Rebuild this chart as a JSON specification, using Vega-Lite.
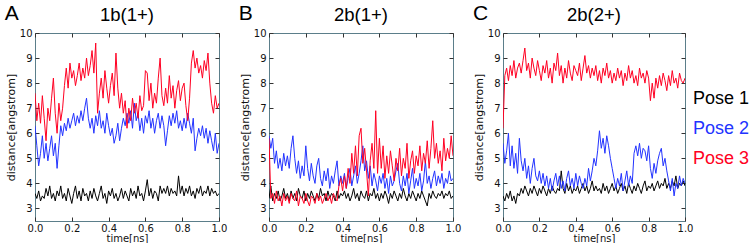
{
"$schema": "https://vega.github.io/schema/vega-lite/v6.json",
"padding": {"left": 4, "top": 2, "right": 2, "bottom": 1},
"bounds": "flush",
"spacing": 50,
"config": {
  "view": {"stroke": "#5b7e8a", "strokeWidth": 1},
  "axis": {"grid": false, "domain": false, "labelFlush": false, "tickColor": "#333333", "labelColor": "#111111", "titleColor": "#111111", "labelFont": "DejaVu Sans", "titleFont": "DejaVu Sans", "titleFontWeight": "normal"}
},
"data": {"values": [
{"p":"A","s":"Pose 1","t":0,"d":3.6},{"p":"A","s":"Pose 1","t":0.01,"d":3.4},{"p":"A","s":"Pose 1","t":0.02,"d":3.7},{"p":"A","s":"Pose 1","t":0.03,"d":3.3},{"p":"A","s":"Pose 1","t":0.04,"d":3.5},{"p":"A","s":"Pose 1","t":0.05,"d":3.4},{"p":"A","s":"Pose 1","t":0.06,"d":3.8},{"p":"A","s":"Pose 1","t":0.07,"d":3.5},{"p":"A","s":"Pose 1","t":0.08,"d":3.9},{"p":"A","s":"Pose 1","t":0.09,"d":3.4},{"p":"A","s":"Pose 1","t":0.1,"d":3.6},
{"p":"A","s":"Pose 1","t":0.11,"d":3.3},{"p":"A","s":"Pose 1","t":0.12,"d":3.7},{"p":"A","s":"Pose 1","t":0.13,"d":3.5},{"p":"A","s":"Pose 1","t":0.14,"d":3.9},{"p":"A","s":"Pose 1","t":0.15,"d":3.4},{"p":"A","s":"Pose 1","t":0.16,"d":3.6},{"p":"A","s":"Pose 1","t":0.17,"d":3.3},{"p":"A","s":"Pose 1","t":0.18,"d":3.8},{"p":"A","s":"Pose 1","t":0.19,"d":3.5},{"p":"A","s":"Pose 1","t":0.2,"d":3.2},
{"p":"A","s":"Pose 1","t":0.21,"d":3.6},{"p":"A","s":"Pose 1","t":0.22,"d":3.9},{"p":"A","s":"Pose 1","t":0.23,"d":3.4},{"p":"A","s":"Pose 1","t":0.24,"d":3.7},{"p":"A","s":"Pose 1","t":0.25,"d":3.3},{"p":"A","s":"Pose 1","t":0.26,"d":3.8},{"p":"A","s":"Pose 1","t":0.27,"d":3.5},{"p":"A","s":"Pose 1","t":0.28,"d":3.6},{"p":"A","s":"Pose 1","t":0.29,"d":3.3},{"p":"A","s":"Pose 1","t":0.3,"d":3.7},
{"p":"A","s":"Pose 1","t":0.31,"d":3.4},{"p":"A","s":"Pose 1","t":0.32,"d":3.8},{"p":"A","s":"Pose 1","t":0.33,"d":3.5},{"p":"A","s":"Pose 1","t":0.34,"d":3.3},{"p":"A","s":"Pose 1","t":0.35,"d":3.6},{"p":"A","s":"Pose 1","t":0.36,"d":3.9},{"p":"A","s":"Pose 1","t":0.37,"d":3.4},{"p":"A","s":"Pose 1","t":0.38,"d":3.6},{"p":"A","s":"Pose 1","t":0.39,"d":3.2},{"p":"A","s":"Pose 1","t":0.4,"d":3.7},
{"p":"A","s":"Pose 1","t":0.41,"d":3.5},{"p":"A","s":"Pose 1","t":0.42,"d":3.8},{"p":"A","s":"Pose 1","t":0.43,"d":3.4},{"p":"A","s":"Pose 1","t":0.44,"d":3.6},{"p":"A","s":"Pose 1","t":0.45,"d":3.3},{"p":"A","s":"Pose 1","t":0.46,"d":3.5},{"p":"A","s":"Pose 1","t":0.47,"d":3.8},{"p":"A","s":"Pose 1","t":0.48,"d":3.4},{"p":"A","s":"Pose 1","t":0.49,"d":3.7},{"p":"A","s":"Pose 1","t":0.5,"d":3.5},
{"p":"A","s":"Pose 1","t":0.51,"d":3.3},{"p":"A","s":"Pose 1","t":0.52,"d":3.8},{"p":"A","s":"Pose 1","t":0.53,"d":3.5},{"p":"A","s":"Pose 1","t":0.54,"d":3.7},{"p":"A","s":"Pose 1","t":0.55,"d":3.4},{"p":"A","s":"Pose 1","t":0.56,"d":3.9},{"p":"A","s":"Pose 1","t":0.57,"d":3.5},{"p":"A","s":"Pose 1","t":0.58,"d":3.6},{"p":"A","s":"Pose 1","t":0.59,"d":3.3},{"p":"A","s":"Pose 1","t":0.6,"d":3.7},
{"p":"A","s":"Pose 1","t":0.61,"d":4.15},{"p":"A","s":"Pose 1","t":0.62,"d":3.5},{"p":"A","s":"Pose 1","t":0.63,"d":3.8},{"p":"A","s":"Pose 1","t":0.64,"d":3.4},{"p":"A","s":"Pose 1","t":0.65,"d":3.7},{"p":"A","s":"Pose 1","t":0.66,"d":3.6},{"p":"A","s":"Pose 1","t":0.67,"d":3.3},{"p":"A","s":"Pose 1","t":0.68,"d":3.9},{"p":"A","s":"Pose 1","t":0.69,"d":3.6},{"p":"A","s":"Pose 1","t":0.7,"d":3.8},
{"p":"A","s":"Pose 1","t":0.71,"d":3.6},{"p":"A","s":"Pose 1","t":0.72,"d":3.9},{"p":"A","s":"Pose 1","t":0.73,"d":3.5},{"p":"A","s":"Pose 1","t":0.74,"d":3.8},{"p":"A","s":"Pose 1","t":0.75,"d":3.6},{"p":"A","s":"Pose 1","t":0.76,"d":3.7},{"p":"A","s":"Pose 1","t":0.77,"d":3.5},{"p":"A","s":"Pose 1","t":0.78,"d":4.3},{"p":"A","s":"Pose 1","t":0.79,"d":3.6},{"p":"A","s":"Pose 1","t":0.8,"d":3.9},
{"p":"A","s":"Pose 1","t":0.81,"d":3.5},{"p":"A","s":"Pose 1","t":0.82,"d":3.8},{"p":"A","s":"Pose 1","t":0.83,"d":3.6},{"p":"A","s":"Pose 1","t":0.84,"d":3.9},{"p":"A","s":"Pose 1","t":0.85,"d":3.5},{"p":"A","s":"Pose 1","t":0.86,"d":3.7},{"p":"A","s":"Pose 1","t":0.87,"d":3.4},{"p":"A","s":"Pose 1","t":0.88,"d":3.8},{"p":"A","s":"Pose 1","t":0.89,"d":3.6},{"p":"A","s":"Pose 1","t":0.9,"d":3.9},
{"p":"A","s":"Pose 1","t":0.91,"d":3.5},{"p":"A","s":"Pose 1","t":0.92,"d":3.7},{"p":"A","s":"Pose 1","t":0.93,"d":3.6},{"p":"A","s":"Pose 1","t":0.94,"d":3.9},{"p":"A","s":"Pose 1","t":0.95,"d":3.5},{"p":"A","s":"Pose 1","t":0.96,"d":3.8},{"p":"A","s":"Pose 1","t":0.97,"d":3.6},{"p":"A","s":"Pose 1","t":0.98,"d":3.7},{"p":"A","s":"Pose 1","t":0.99,"d":3.5},{"p":"A","s":"Pose 1","t":1,"d":3.6},

{"p":"A","s":"Pose 2","t":0,"d":6.3},{"p":"A","s":"Pose 2","t":0.01,"d":5.5},{"p":"A","s":"Pose 2","t":0.02,"d":4.7},{"p":"A","s":"Pose 2","t":0.03,"d":5.2},{"p":"A","s":"Pose 2","t":0.04,"d":5.9},{"p":"A","s":"Pose 2","t":0.05,"d":5.0},{"p":"A","s":"Pose 2","t":0.06,"d":5.6},{"p":"A","s":"Pose 2","t":0.07,"d":4.9},{"p":"A","s":"Pose 2","t":0.08,"d":5.4},{"p":"A","s":"Pose 2","t":0.09,"d":5.9},{"p":"A","s":"Pose 2","t":0.1,"d":5.1},
{"p":"A","s":"Pose 2","t":0.11,"d":5.6},{"p":"A","s":"Pose 2","t":0.12,"d":4.6},{"p":"A","s":"Pose 2","t":0.13,"d":5.5},{"p":"A","s":"Pose 2","t":0.14,"d":6.3},{"p":"A","s":"Pose 2","t":0.15,"d":5.9},{"p":"A","s":"Pose 2","t":0.16,"d":6.4},{"p":"A","s":"Pose 2","t":0.17,"d":6.1},{"p":"A","s":"Pose 2","t":0.18,"d":6.6},{"p":"A","s":"Pose 2","t":0.19,"d":6.2},{"p":"A","s":"Pose 2","t":0.2,"d":6.5},
{"p":"A","s":"Pose 2","t":0.21,"d":6.8},{"p":"A","s":"Pose 2","t":0.22,"d":6.3},{"p":"A","s":"Pose 2","t":0.23,"d":6.7},{"p":"A","s":"Pose 2","t":0.24,"d":6.4},{"p":"A","s":"Pose 2","t":0.25,"d":6.9},{"p":"A","s":"Pose 2","t":0.26,"d":6.5},{"p":"A","s":"Pose 2","t":0.27,"d":7.0},{"p":"A","s":"Pose 2","t":0.28,"d":7.4},{"p":"A","s":"Pose 2","t":0.29,"d":6.6},{"p":"A","s":"Pose 2","t":0.3,"d":6.2},
{"p":"A","s":"Pose 2","t":0.31,"d":6.6},{"p":"A","s":"Pose 2","t":0.32,"d":6.0},{"p":"A","s":"Pose 2","t":0.33,"d":6.7},{"p":"A","s":"Pose 2","t":0.34,"d":6.3},{"p":"A","s":"Pose 2","t":0.35,"d":6.9},{"p":"A","s":"Pose 2","t":0.36,"d":6.2},{"p":"A","s":"Pose 2","t":0.37,"d":6.5},{"p":"A","s":"Pose 2","t":0.38,"d":6.0},{"p":"A","s":"Pose 2","t":0.39,"d":6.8},{"p":"A","s":"Pose 2","t":0.4,"d":6.3},
{"p":"A","s":"Pose 2","t":0.41,"d":5.9},{"p":"A","s":"Pose 2","t":0.42,"d":6.2},{"p":"A","s":"Pose 2","t":0.43,"d":5.6},{"p":"A","s":"Pose 2","t":0.44,"d":5.9},{"p":"A","s":"Pose 2","t":0.45,"d":6.4},{"p":"A","s":"Pose 2","t":0.46,"d":5.7},{"p":"A","s":"Pose 2","t":0.47,"d":6.2},{"p":"A","s":"Pose 2","t":0.48,"d":6.6},{"p":"A","s":"Pose 2","t":0.49,"d":6.3},{"p":"A","s":"Pose 2","t":0.5,"d":6.8},
{"p":"A","s":"Pose 2","t":0.51,"d":6.4},{"p":"A","s":"Pose 2","t":0.52,"d":6.9},{"p":"A","s":"Pose 2","t":0.53,"d":6.2},{"p":"A","s":"Pose 2","t":0.54,"d":7.2},{"p":"A","s":"Pose 2","t":0.55,"d":6.5},{"p":"A","s":"Pose 2","t":0.56,"d":6.8},{"p":"A","s":"Pose 2","t":0.57,"d":6.1},{"p":"A","s":"Pose 2","t":0.58,"d":6.6},{"p":"A","s":"Pose 2","t":0.59,"d":6.0},{"p":"A","s":"Pose 2","t":0.6,"d":6.7},
{"p":"A","s":"Pose 2","t":0.61,"d":6.4},{"p":"A","s":"Pose 2","t":0.62,"d":6.9},{"p":"A","s":"Pose 2","t":0.63,"d":6.2},{"p":"A","s":"Pose 2","t":0.64,"d":6.6},{"p":"A","s":"Pose 2","t":0.65,"d":6.0},{"p":"A","s":"Pose 2","t":0.66,"d":6.5},{"p":"A","s":"Pose 2","t":0.67,"d":6.8},{"p":"A","s":"Pose 2","t":0.68,"d":6.2},{"p":"A","s":"Pose 2","t":0.69,"d":6.7},{"p":"A","s":"Pose 2","t":0.7,"d":6.3},
{"p":"A","s":"Pose 2","t":0.71,"d":5.5},{"p":"A","s":"Pose 2","t":0.72,"d":6.1},{"p":"A","s":"Pose 2","t":0.73,"d":6.7},{"p":"A","s":"Pose 2","t":0.74,"d":6.3},{"p":"A","s":"Pose 2","t":0.75,"d":6.8},{"p":"A","s":"Pose 2","t":0.76,"d":6.4},{"p":"A","s":"Pose 2","t":0.77,"d":6.9},{"p":"A","s":"Pose 2","t":0.78,"d":6.2},{"p":"A","s":"Pose 2","t":0.79,"d":6.5},{"p":"A","s":"Pose 2","t":0.8,"d":6.1},
{"p":"A","s":"Pose 2","t":0.81,"d":6.6},{"p":"A","s":"Pose 2","t":0.82,"d":6.2},{"p":"A","s":"Pose 2","t":0.83,"d":6.8},{"p":"A","s":"Pose 2","t":0.84,"d":6.4},{"p":"A","s":"Pose 2","t":0.85,"d":6.0},{"p":"A","s":"Pose 2","t":0.86,"d":6.6},{"p":"A","s":"Pose 2","t":0.87,"d":5.3},{"p":"A","s":"Pose 2","t":0.88,"d":5.8},{"p":"A","s":"Pose 2","t":0.89,"d":6.2},{"p":"A","s":"Pose 2","t":0.9,"d":5.9},
{"p":"A","s":"Pose 2","t":0.91,"d":6.3},{"p":"A","s":"Pose 2","t":0.92,"d":5.8},{"p":"A","s":"Pose 2","t":0.93,"d":6.2},{"p":"A","s":"Pose 2","t":0.94,"d":5.6},{"p":"A","s":"Pose 2","t":0.95,"d":6.1},{"p":"A","s":"Pose 2","t":0.96,"d":5.7},{"p":"A","s":"Pose 2","t":0.97,"d":5.3},{"p":"A","s":"Pose 2","t":0.98,"d":6.0},{"p":"A","s":"Pose 2","t":0.99,"d":5.2},{"p":"A","s":"Pose 2","t":1,"d":5.6},

{"p":"A","s":"Pose 3","t":0,"d":7.6},{"p":"A","s":"Pose 3","t":0.01,"d":6.5},{"p":"A","s":"Pose 3","t":0.02,"d":7.2},{"p":"A","s":"Pose 3","t":0.03,"d":6.4},{"p":"A","s":"Pose 3","t":0.04,"d":7.5},{"p":"A","s":"Pose 3","t":0.05,"d":6.6},{"p":"A","s":"Pose 3","t":0.06,"d":5.7},{"p":"A","s":"Pose 3","t":0.07,"d":7.0},{"p":"A","s":"Pose 3","t":0.08,"d":6.5},{"p":"A","s":"Pose 3","t":0.09,"d":7.4},{"p":"A","s":"Pose 3","t":0.1,"d":8.2},
{"p":"A","s":"Pose 3","t":0.11,"d":6.8},{"p":"A","s":"Pose 3","t":0.12,"d":6.0},{"p":"A","s":"Pose 3","t":0.13,"d":7.2},{"p":"A","s":"Pose 3","t":0.14,"d":6.5},{"p":"A","s":"Pose 3","t":0.15,"d":7.0},{"p":"A","s":"Pose 3","t":0.16,"d":7.9},{"p":"A","s":"Pose 3","t":0.17,"d":8.6},{"p":"A","s":"Pose 3","t":0.18,"d":7.8},{"p":"A","s":"Pose 3","t":0.19,"d":8.8},{"p":"A","s":"Pose 3","t":0.2,"d":8.2},
{"p":"A","s":"Pose 3","t":0.21,"d":8.5},{"p":"A","s":"Pose 3","t":0.22,"d":7.9},{"p":"A","s":"Pose 3","t":0.23,"d":8.3},{"p":"A","s":"Pose 3","t":0.24,"d":8.8},{"p":"A","s":"Pose 3","t":0.25,"d":8.1},{"p":"A","s":"Pose 3","t":0.26,"d":8.6},{"p":"A","s":"Pose 3","t":0.27,"d":8.2},{"p":"A","s":"Pose 3","t":0.28,"d":9.0},{"p":"A","s":"Pose 3","t":0.29,"d":8.3},{"p":"A","s":"Pose 3","t":0.3,"d":8.7},
{"p":"A","s":"Pose 3","t":0.31,"d":9.3},{"p":"A","s":"Pose 3","t":0.32,"d":8.4},{"p":"A","s":"Pose 3","t":0.33,"d":9.6},{"p":"A","s":"Pose 3","t":0.34,"d":6.8},{"p":"A","s":"Pose 3","t":0.35,"d":7.6},{"p":"A","s":"Pose 3","t":0.36,"d":8.2},{"p":"A","s":"Pose 3","t":0.37,"d":7.4},{"p":"A","s":"Pose 3","t":0.38,"d":8.5},{"p":"A","s":"Pose 3","t":0.39,"d":7.8},{"p":"A","s":"Pose 3","t":0.4,"d":7.2},
{"p":"A","s":"Pose 3","t":0.41,"d":7.9},{"p":"A","s":"Pose 3","t":0.42,"d":8.4},{"p":"A","s":"Pose 3","t":0.43,"d":7.5},{"p":"A","s":"Pose 3","t":0.44,"d":9.2},{"p":"A","s":"Pose 3","t":0.45,"d":7.8},{"p":"A","s":"Pose 3","t":0.46,"d":7.0},{"p":"A","s":"Pose 3","t":0.47,"d":7.6},{"p":"A","s":"Pose 3","t":0.48,"d":6.8},{"p":"A","s":"Pose 3","t":0.49,"d":7.3},{"p":"A","s":"Pose 3","t":0.5,"d":6.2},
{"p":"A","s":"Pose 3","t":0.51,"d":7.0},{"p":"A","s":"Pose 3","t":0.52,"d":6.5},{"p":"A","s":"Pose 3","t":0.53,"d":7.4},{"p":"A","s":"Pose 3","t":0.54,"d":6.8},{"p":"A","s":"Pose 3","t":0.55,"d":7.2},{"p":"A","s":"Pose 3","t":0.56,"d":6.6},{"p":"A","s":"Pose 3","t":0.57,"d":7.5},{"p":"A","s":"Pose 3","t":0.58,"d":6.9},{"p":"A","s":"Pose 3","t":0.59,"d":7.1},{"p":"A","s":"Pose 3","t":0.6,"d":8.5},
{"p":"A","s":"Pose 3","t":0.61,"d":8.4},{"p":"A","s":"Pose 3","t":0.62,"d":7.3},{"p":"A","s":"Pose 3","t":0.63,"d":8.0},{"p":"A","s":"Pose 3","t":0.64,"d":7.0},{"p":"A","s":"Pose 3","t":0.65,"d":7.6},{"p":"A","s":"Pose 3","t":0.66,"d":7.2},{"p":"A","s":"Pose 3","t":0.67,"d":8.2},{"p":"A","s":"Pose 3","t":0.68,"d":9.0},{"p":"A","s":"Pose 3","t":0.69,"d":7.5},{"p":"A","s":"Pose 3","t":0.7,"d":7.1},
{"p":"A","s":"Pose 3","t":0.71,"d":7.8},{"p":"A","s":"Pose 3","t":0.72,"d":7.2},{"p":"A","s":"Pose 3","t":0.73,"d":8.3},{"p":"A","s":"Pose 3","t":0.74,"d":7.4},{"p":"A","s":"Pose 3","t":0.75,"d":7.9},{"p":"A","s":"Pose 3","t":0.76,"d":7.0},{"p":"A","s":"Pose 3","t":0.77,"d":7.7},{"p":"A","s":"Pose 3","t":0.78,"d":8.1},{"p":"A","s":"Pose 3","t":0.79,"d":7.3},{"p":"A","s":"Pose 3","t":0.8,"d":7.8},
{"p":"A","s":"Pose 3","t":0.81,"d":8.0},{"p":"A","s":"Pose 3","t":0.82,"d":7.1},{"p":"A","s":"Pose 3","t":0.83,"d":6.5},{"p":"A","s":"Pose 3","t":0.84,"d":7.4},{"p":"A","s":"Pose 3","t":0.85,"d":8.8},{"p":"A","s":"Pose 3","t":0.86,"d":9.3},{"p":"A","s":"Pose 3","t":0.87,"d":8.6},{"p":"A","s":"Pose 3","t":0.88,"d":9.0},{"p":"A","s":"Pose 3","t":0.89,"d":8.4},{"p":"A","s":"Pose 3","t":0.9,"d":8.7},
{"p":"A","s":"Pose 3","t":0.91,"d":8.2},{"p":"A","s":"Pose 3","t":0.92,"d":8.9},{"p":"A","s":"Pose 3","t":0.93,"d":8.5},{"p":"A","s":"Pose 3","t":0.94,"d":9.2},{"p":"A","s":"Pose 3","t":0.95,"d":8.0},{"p":"A","s":"Pose 3","t":0.96,"d":7.2},{"p":"A","s":"Pose 3","t":0.97,"d":6.8},{"p":"A","s":"Pose 3","t":0.98,"d":7.5},{"p":"A","s":"Pose 3","t":0.99,"d":7.0},{"p":"A","s":"Pose 3","t":1,"d":7.2},

{"p":"B","s":"Pose 1","t":0,"d":3.4},{"p":"B","s":"Pose 1","t":0.01,"d":3.9},{"p":"B","s":"Pose 1","t":0.02,"d":3.3},{"p":"B","s":"Pose 1","t":0.03,"d":3.6},{"p":"B","s":"Pose 1","t":0.04,"d":3.4},{"p":"B","s":"Pose 1","t":0.05,"d":3.7},{"p":"B","s":"Pose 1","t":0.06,"d":3.3},{"p":"B","s":"Pose 1","t":0.07,"d":3.5},{"p":"B","s":"Pose 1","t":0.08,"d":3.8},{"p":"B","s":"Pose 1","t":0.09,"d":3.4},{"p":"B","s":"Pose 1","t":0.1,"d":3.6},
{"p":"B","s":"Pose 1","t":0.11,"d":3.3},{"p":"B","s":"Pose 1","t":0.12,"d":3.7},{"p":"B","s":"Pose 1","t":0.13,"d":3.4},{"p":"B","s":"Pose 1","t":0.14,"d":3.6},{"p":"B","s":"Pose 1","t":0.15,"d":3.3},{"p":"B","s":"Pose 1","t":0.16,"d":3.8},{"p":"B","s":"Pose 1","t":0.17,"d":3.5},{"p":"B","s":"Pose 1","t":0.18,"d":3.4},{"p":"B","s":"Pose 1","t":0.19,"d":3.7},{"p":"B","s":"Pose 1","t":0.2,"d":3.3},
{"p":"B","s":"Pose 1","t":0.21,"d":3.6},{"p":"B","s":"Pose 1","t":0.22,"d":3.4},{"p":"B","s":"Pose 1","t":0.23,"d":3.7},{"p":"B","s":"Pose 1","t":0.24,"d":3.5},{"p":"B","s":"Pose 1","t":0.25,"d":3.3},{"p":"B","s":"Pose 1","t":0.26,"d":3.6},{"p":"B","s":"Pose 1","t":0.27,"d":3.4},{"p":"B","s":"Pose 1","t":0.28,"d":3.8},{"p":"B","s":"Pose 1","t":0.29,"d":3.5},{"p":"B","s":"Pose 1","t":0.3,"d":3.6},
{"p":"B","s":"Pose 1","t":0.31,"d":3.3},{"p":"B","s":"Pose 1","t":0.32,"d":3.7},{"p":"B","s":"Pose 1","t":0.33,"d":3.4},{"p":"B","s":"Pose 1","t":0.34,"d":3.6},{"p":"B","s":"Pose 1","t":0.35,"d":3.5},{"p":"B","s":"Pose 1","t":0.36,"d":3.3},{"p":"B","s":"Pose 1","t":0.37,"d":3.7},{"p":"B","s":"Pose 1","t":0.38,"d":3.4},{"p":"B","s":"Pose 1","t":0.39,"d":3.6},{"p":"B","s":"Pose 1","t":0.4,"d":3.5},
{"p":"B","s":"Pose 1","t":0.41,"d":3.7},{"p":"B","s":"Pose 1","t":0.42,"d":3.4},{"p":"B","s":"Pose 1","t":0.43,"d":3.6},{"p":"B","s":"Pose 1","t":0.44,"d":3.3},{"p":"B","s":"Pose 1","t":0.45,"d":3.5},{"p":"B","s":"Pose 1","t":0.46,"d":3.8},{"p":"B","s":"Pose 1","t":0.47,"d":3.4},{"p":"B","s":"Pose 1","t":0.48,"d":3.6},{"p":"B","s":"Pose 1","t":0.49,"d":3.3},{"p":"B","s":"Pose 1","t":0.5,"d":3.7},
{"p":"B","s":"Pose 1","t":0.51,"d":3.5},{"p":"B","s":"Pose 1","t":0.52,"d":3.4},{"p":"B","s":"Pose 1","t":0.53,"d":3.7},{"p":"B","s":"Pose 1","t":0.54,"d":3.3},{"p":"B","s":"Pose 1","t":0.55,"d":3.6},{"p":"B","s":"Pose 1","t":0.56,"d":3.5},{"p":"B","s":"Pose 1","t":0.57,"d":3.8},{"p":"B","s":"Pose 1","t":0.58,"d":3.4},{"p":"B","s":"Pose 1","t":0.59,"d":3.6},{"p":"B","s":"Pose 1","t":0.6,"d":3.3},
{"p":"B","s":"Pose 1","t":0.61,"d":3.6},{"p":"B","s":"Pose 1","t":0.62,"d":3.4},{"p":"B","s":"Pose 1","t":0.63,"d":3.7},{"p":"B","s":"Pose 1","t":0.64,"d":3.5},{"p":"B","s":"Pose 1","t":0.65,"d":3.2},{"p":"B","s":"Pose 1","t":0.66,"d":3.6},{"p":"B","s":"Pose 1","t":0.67,"d":3.4},{"p":"B","s":"Pose 1","t":0.68,"d":3.7},{"p":"B","s":"Pose 1","t":0.69,"d":3.5},{"p":"B","s":"Pose 1","t":0.7,"d":3.3},
{"p":"B","s":"Pose 1","t":0.71,"d":3.6},{"p":"B","s":"Pose 1","t":0.72,"d":3.4},{"p":"B","s":"Pose 1","t":0.73,"d":3.8},{"p":"B","s":"Pose 1","t":0.74,"d":3.5},{"p":"B","s":"Pose 1","t":0.75,"d":3.3},{"p":"B","s":"Pose 1","t":0.76,"d":3.6},{"p":"B","s":"Pose 1","t":0.77,"d":3.4},{"p":"B","s":"Pose 1","t":0.78,"d":3.7},{"p":"B","s":"Pose 1","t":0.79,"d":3.5},{"p":"B","s":"Pose 1","t":0.8,"d":3.3},
{"p":"B","s":"Pose 1","t":0.81,"d":3.6},{"p":"B","s":"Pose 1","t":0.82,"d":3.4},{"p":"B","s":"Pose 1","t":0.83,"d":3.7},{"p":"B","s":"Pose 1","t":0.84,"d":3.5},{"p":"B","s":"Pose 1","t":0.85,"d":3.3},{"p":"B","s":"Pose 1","t":0.86,"d":3.1},{"p":"B","s":"Pose 1","t":0.87,"d":3.6},{"p":"B","s":"Pose 1","t":0.88,"d":3.4},{"p":"B","s":"Pose 1","t":0.89,"d":3.7},{"p":"B","s":"Pose 1","t":0.9,"d":3.5},
{"p":"B","s":"Pose 1","t":0.91,"d":3.4},{"p":"B","s":"Pose 1","t":0.92,"d":3.6},{"p":"B","s":"Pose 1","t":0.93,"d":3.5},{"p":"B","s":"Pose 1","t":0.94,"d":3.7},{"p":"B","s":"Pose 1","t":0.95,"d":3.4},{"p":"B","s":"Pose 1","t":0.96,"d":3.6},{"p":"B","s":"Pose 1","t":0.97,"d":3.5},{"p":"B","s":"Pose 1","t":0.98,"d":3.7},{"p":"B","s":"Pose 1","t":0.99,"d":3.4},{"p":"B","s":"Pose 1","t":1,"d":3.5},

{"p":"B","s":"Pose 2","t":0,"d":5.9},{"p":"B","s":"Pose 2","t":0.01,"d":5.4},{"p":"B","s":"Pose 2","t":0.02,"d":5.8},{"p":"B","s":"Pose 2","t":0.03,"d":4.8},{"p":"B","s":"Pose 2","t":0.04,"d":5.3},{"p":"B","s":"Pose 2","t":0.05,"d":4.6},{"p":"B","s":"Pose 2","t":0.06,"d":5.0},{"p":"B","s":"Pose 2","t":0.07,"d":4.5},{"p":"B","s":"Pose 2","t":0.08,"d":5.2},{"p":"B","s":"Pose 2","t":0.09,"d":4.7},{"p":"B","s":"Pose 2","t":0.1,"d":5.1},
{"p":"B","s":"Pose 2","t":0.11,"d":4.6},{"p":"B","s":"Pose 2","t":0.12,"d":5.4},{"p":"B","s":"Pose 2","t":0.13,"d":5.9},{"p":"B","s":"Pose 2","t":0.14,"d":5.0},{"p":"B","s":"Pose 2","t":0.15,"d":4.4},{"p":"B","s":"Pose 2","t":0.16,"d":4.9},{"p":"B","s":"Pose 2","t":0.17,"d":4.2},{"p":"B","s":"Pose 2","t":0.18,"d":4.7},{"p":"B","s":"Pose 2","t":0.19,"d":4.3},{"p":"B","s":"Pose 2","t":0.2,"d":5.5},
{"p":"B","s":"Pose 2","t":0.21,"d":4.6},{"p":"B","s":"Pose 2","t":0.22,"d":4.1},{"p":"B","s":"Pose 2","t":0.23,"d":4.8},{"p":"B","s":"Pose 2","t":0.24,"d":4.3},{"p":"B","s":"Pose 2","t":0.25,"d":4.0},{"p":"B","s":"Pose 2","t":0.26,"d":4.7},{"p":"B","s":"Pose 2","t":0.27,"d":5.0},{"p":"B","s":"Pose 2","t":0.28,"d":4.2},{"p":"B","s":"Pose 2","t":0.29,"d":3.9},{"p":"B","s":"Pose 2","t":0.3,"d":4.5},
{"p":"B","s":"Pose 2","t":0.31,"d":4.1},{"p":"B","s":"Pose 2","t":0.32,"d":4.6},{"p":"B","s":"Pose 2","t":0.33,"d":3.8},{"p":"B","s":"Pose 2","t":0.34,"d":4.3},{"p":"B","s":"Pose 2","t":0.35,"d":4.0},{"p":"B","s":"Pose 2","t":0.36,"d":4.5},{"p":"B","s":"Pose 2","t":0.37,"d":4.9},{"p":"B","s":"Pose 2","t":0.38,"d":3.9},{"p":"B","s":"Pose 2","t":0.39,"d":4.3},{"p":"B","s":"Pose 2","t":0.4,"d":4.0},
{"p":"B","s":"Pose 2","t":0.41,"d":4.4},{"p":"B","s":"Pose 2","t":0.42,"d":3.8},{"p":"B","s":"Pose 2","t":0.43,"d":4.2},{"p":"B","s":"Pose 2","t":0.44,"d":4.6},{"p":"B","s":"Pose 2","t":0.45,"d":3.9},{"p":"B","s":"Pose 2","t":0.46,"d":4.3},{"p":"B","s":"Pose 2","t":0.47,"d":4.7},{"p":"B","s":"Pose 2","t":0.48,"d":4.0},{"p":"B","s":"Pose 2","t":0.49,"d":4.4},{"p":"B","s":"Pose 2","t":0.5,"d":4.9},
{"p":"B","s":"Pose 2","t":0.51,"d":5.5},{"p":"B","s":"Pose 2","t":0.52,"d":4.5},{"p":"B","s":"Pose 2","t":0.53,"d":4.9},{"p":"B","s":"Pose 2","t":0.54,"d":4.2},{"p":"B","s":"Pose 2","t":0.55,"d":4.7},{"p":"B","s":"Pose 2","t":0.56,"d":3.9},{"p":"B","s":"Pose 2","t":0.57,"d":4.4},{"p":"B","s":"Pose 2","t":0.58,"d":4.1},{"p":"B","s":"Pose 2","t":0.59,"d":3.7},{"p":"B","s":"Pose 2","t":0.6,"d":4.3},
{"p":"B","s":"Pose 2","t":0.61,"d":4.0},{"p":"B","s":"Pose 2","t":0.62,"d":4.4},{"p":"B","s":"Pose 2","t":0.63,"d":3.8},{"p":"B","s":"Pose 2","t":0.64,"d":4.2},{"p":"B","s":"Pose 2","t":0.65,"d":3.6},{"p":"B","s":"Pose 2","t":0.66,"d":4.3},{"p":"B","s":"Pose 2","t":0.67,"d":3.9},{"p":"B","s":"Pose 2","t":0.68,"d":4.1},{"p":"B","s":"Pose 2","t":0.69,"d":4.5},{"p":"B","s":"Pose 2","t":0.7,"d":4.8},
{"p":"B","s":"Pose 2","t":0.71,"d":4.0},{"p":"B","s":"Pose 2","t":0.72,"d":3.7},{"p":"B","s":"Pose 2","t":0.73,"d":4.3},{"p":"B","s":"Pose 2","t":0.74,"d":3.9},{"p":"B","s":"Pose 2","t":0.75,"d":4.4},{"p":"B","s":"Pose 2","t":0.76,"d":3.6},{"p":"B","s":"Pose 2","t":0.77,"d":4.1},{"p":"B","s":"Pose 2","t":0.78,"d":4.6},{"p":"B","s":"Pose 2","t":0.79,"d":3.8},{"p":"B","s":"Pose 2","t":0.8,"d":4.2},
{"p":"B","s":"Pose 2","t":0.81,"d":3.9},{"p":"B","s":"Pose 2","t":0.82,"d":4.4},{"p":"B","s":"Pose 2","t":0.83,"d":3.7},{"p":"B","s":"Pose 2","t":0.84,"d":4.1},{"p":"B","s":"Pose 2","t":0.85,"d":4.9},{"p":"B","s":"Pose 2","t":0.86,"d":4.0},{"p":"B","s":"Pose 2","t":0.87,"d":4.3},{"p":"B","s":"Pose 2","t":0.88,"d":3.8},{"p":"B","s":"Pose 2","t":0.89,"d":4.2},{"p":"B","s":"Pose 2","t":0.9,"d":4.5},
{"p":"B","s":"Pose 2","t":0.91,"d":3.9},{"p":"B","s":"Pose 2","t":0.92,"d":4.3},{"p":"B","s":"Pose 2","t":0.93,"d":4.0},{"p":"B","s":"Pose 2","t":0.94,"d":4.4},{"p":"B","s":"Pose 2","t":0.95,"d":3.8},{"p":"B","s":"Pose 2","t":0.96,"d":4.2},{"p":"B","s":"Pose 2","t":0.97,"d":4.0},{"p":"B","s":"Pose 2","t":0.98,"d":4.5},{"p":"B","s":"Pose 2","t":0.99,"d":4.1},{"p":"B","s":"Pose 2","t":1,"d":4.2},

{"p":"B","s":"Pose 3","t":0,"d":5.8},{"p":"B","s":"Pose 3","t":0.01,"d":3.4},{"p":"B","s":"Pose 3","t":0.02,"d":3.6},{"p":"B","s":"Pose 3","t":0.03,"d":3.2},{"p":"B","s":"Pose 3","t":0.04,"d":3.7},{"p":"B","s":"Pose 3","t":0.05,"d":3.3},{"p":"B","s":"Pose 3","t":0.06,"d":3.5},{"p":"B","s":"Pose 3","t":0.07,"d":3.1},{"p":"B","s":"Pose 3","t":0.08,"d":3.6},{"p":"B","s":"Pose 3","t":0.09,"d":3.3},{"p":"B","s":"Pose 3","t":0.1,"d":3.5},
{"p":"B","s":"Pose 3","t":0.11,"d":3.2},{"p":"B","s":"Pose 3","t":0.12,"d":3.6},{"p":"B","s":"Pose 3","t":0.13,"d":3.4},{"p":"B","s":"Pose 3","t":0.14,"d":3.3},{"p":"B","s":"Pose 3","t":0.15,"d":3.7},{"p":"B","s":"Pose 3","t":0.16,"d":3.1},{"p":"B","s":"Pose 3","t":0.17,"d":3.5},{"p":"B","s":"Pose 3","t":0.18,"d":3.4},{"p":"B","s":"Pose 3","t":0.19,"d":3.2},{"p":"B","s":"Pose 3","t":0.2,"d":3.6},
{"p":"B","s":"Pose 3","t":0.21,"d":3.3},{"p":"B","s":"Pose 3","t":0.22,"d":3.1},{"p":"B","s":"Pose 3","t":0.23,"d":3.5},{"p":"B","s":"Pose 3","t":0.24,"d":3.4},{"p":"B","s":"Pose 3","t":0.25,"d":3.2},{"p":"B","s":"Pose 3","t":0.26,"d":3.6},{"p":"B","s":"Pose 3","t":0.27,"d":3.3},{"p":"B","s":"Pose 3","t":0.28,"d":3.5},{"p":"B","s":"Pose 3","t":0.29,"d":3.2},{"p":"B","s":"Pose 3","t":0.3,"d":3.4},
{"p":"B","s":"Pose 3","t":0.31,"d":3.6},{"p":"B","s":"Pose 3","t":0.32,"d":3.3},{"p":"B","s":"Pose 3","t":0.33,"d":3.5},{"p":"B","s":"Pose 3","t":0.34,"d":3.2},{"p":"B","s":"Pose 3","t":0.35,"d":3.6},{"p":"B","s":"Pose 3","t":0.36,"d":3.4},{"p":"B","s":"Pose 3","t":0.37,"d":3.3},{"p":"B","s":"Pose 3","t":0.38,"d":3.9},{"p":"B","s":"Pose 3","t":0.39,"d":4.2},{"p":"B","s":"Pose 3","t":0.4,"d":3.7},
{"p":"B","s":"Pose 3","t":0.41,"d":4.3},{"p":"B","s":"Pose 3","t":0.42,"d":3.8},{"p":"B","s":"Pose 3","t":0.43,"d":4.6},{"p":"B","s":"Pose 3","t":0.44,"d":4.0},{"p":"B","s":"Pose 3","t":0.45,"d":5.2},{"p":"B","s":"Pose 3","t":0.46,"d":4.4},{"p":"B","s":"Pose 3","t":0.47,"d":5.5},{"p":"B","s":"Pose 3","t":0.48,"d":4.3},{"p":"B","s":"Pose 3","t":0.49,"d":5.9},{"p":"B","s":"Pose 3","t":0.5,"d":6.2},
{"p":"B","s":"Pose 3","t":0.51,"d":4.8},{"p":"B","s":"Pose 3","t":0.52,"d":5.4},{"p":"B","s":"Pose 3","t":0.53,"d":4.5},{"p":"B","s":"Pose 3","t":0.54,"d":3.5},{"p":"B","s":"Pose 3","t":0.55,"d":4.9},{"p":"B","s":"Pose 3","t":0.56,"d":5.6},{"p":"B","s":"Pose 3","t":0.57,"d":4.6},{"p":"B","s":"Pose 3","t":0.58,"d":6.9},{"p":"B","s":"Pose 3","t":0.59,"d":4.4},{"p":"B","s":"Pose 3","t":0.6,"d":5.8},
{"p":"B","s":"Pose 3","t":0.61,"d":4.6},{"p":"B","s":"Pose 3","t":0.62,"d":5.5},{"p":"B","s":"Pose 3","t":0.63,"d":4.2},{"p":"B","s":"Pose 3","t":0.64,"d":5.1},{"p":"B","s":"Pose 3","t":0.65,"d":4.4},{"p":"B","s":"Pose 3","t":0.66,"d":5.3},{"p":"B","s":"Pose 3","t":0.67,"d":4.7},{"p":"B","s":"Pose 3","t":0.68,"d":4.1},{"p":"B","s":"Pose 3","t":0.69,"d":5.0},{"p":"B","s":"Pose 3","t":0.7,"d":4.5},
{"p":"B","s":"Pose 3","t":0.71,"d":5.4},{"p":"B","s":"Pose 3","t":0.72,"d":4.3},{"p":"B","s":"Pose 3","t":0.73,"d":5.0},{"p":"B","s":"Pose 3","t":0.74,"d":4.6},{"p":"B","s":"Pose 3","t":0.75,"d":5.6},{"p":"B","s":"Pose 3","t":0.76,"d":4.2},{"p":"B","s":"Pose 3","t":0.77,"d":4.9},{"p":"B","s":"Pose 3","t":0.78,"d":5.3},{"p":"B","s":"Pose 3","t":0.79,"d":4.4},{"p":"B","s":"Pose 3","t":0.8,"d":5.1},
{"p":"B","s":"Pose 3","t":0.81,"d":4.7},{"p":"B","s":"Pose 3","t":0.82,"d":5.5},{"p":"B","s":"Pose 3","t":0.83,"d":4.5},{"p":"B","s":"Pose 3","t":0.84,"d":5.2},{"p":"B","s":"Pose 3","t":0.85,"d":4.8},{"p":"B","s":"Pose 3","t":0.86,"d":5.7},{"p":"B","s":"Pose 3","t":0.87,"d":4.6},{"p":"B","s":"Pose 3","t":0.88,"d":5.4},{"p":"B","s":"Pose 3","t":0.89,"d":6.5},{"p":"B","s":"Pose 3","t":0.9,"d":5.0},
{"p":"B","s":"Pose 3","t":0.91,"d":5.6},{"p":"B","s":"Pose 3","t":0.92,"d":4.8},{"p":"B","s":"Pose 3","t":0.93,"d":5.3},{"p":"B","s":"Pose 3","t":0.94,"d":4.5},{"p":"B","s":"Pose 3","t":0.95,"d":5.8},{"p":"B","s":"Pose 3","t":0.96,"d":4.9},{"p":"B","s":"Pose 3","t":0.97,"d":5.4},{"p":"B","s":"Pose 3","t":0.98,"d":5.0},{"p":"B","s":"Pose 3","t":0.99,"d":5.9},{"p":"B","s":"Pose 3","t":1,"d":5.1},

{"p":"C","s":"Pose 1","t":0,"d":3.5},{"p":"C","s":"Pose 1","t":0.01,"d":3.3},{"p":"C","s":"Pose 1","t":0.02,"d":3.6},{"p":"C","s":"Pose 1","t":0.03,"d":3.4},{"p":"C","s":"Pose 1","t":0.04,"d":3.7},{"p":"C","s":"Pose 1","t":0.05,"d":3.3},{"p":"C","s":"Pose 1","t":0.06,"d":3.5},{"p":"C","s":"Pose 1","t":0.07,"d":3.2},{"p":"C","s":"Pose 1","t":0.08,"d":3.6},{"p":"C","s":"Pose 1","t":0.09,"d":3.5},{"p":"C","s":"Pose 1","t":0.1,"d":3.8},
{"p":"C","s":"Pose 1","t":0.11,"d":3.6},{"p":"C","s":"Pose 1","t":0.12,"d":3.9},{"p":"C","s":"Pose 1","t":0.13,"d":3.7},{"p":"C","s":"Pose 1","t":0.14,"d":3.5},{"p":"C","s":"Pose 1","t":0.15,"d":3.8},{"p":"C","s":"Pose 1","t":0.16,"d":3.6},{"p":"C","s":"Pose 1","t":0.17,"d":3.9},{"p":"C","s":"Pose 1","t":0.18,"d":3.7},{"p":"C","s":"Pose 1","t":0.19,"d":3.5},{"p":"C","s":"Pose 1","t":0.2,"d":3.8},
{"p":"C","s":"Pose 1","t":0.21,"d":3.6},{"p":"C","s":"Pose 1","t":0.22,"d":3.9},{"p":"C","s":"Pose 1","t":0.23,"d":3.7},{"p":"C","s":"Pose 1","t":0.24,"d":3.5},{"p":"C","s":"Pose 1","t":0.25,"d":3.8},{"p":"C","s":"Pose 1","t":0.26,"d":3.6},{"p":"C","s":"Pose 1","t":0.27,"d":3.9},{"p":"C","s":"Pose 1","t":0.28,"d":3.7},{"p":"C","s":"Pose 1","t":0.29,"d":3.6},{"p":"C","s":"Pose 1","t":0.3,"d":3.8},
{"p":"C","s":"Pose 1","t":0.31,"d":3.7},{"p":"C","s":"Pose 1","t":0.32,"d":4.5},{"p":"C","s":"Pose 1","t":0.33,"d":3.8},{"p":"C","s":"Pose 1","t":0.34,"d":3.6},{"p":"C","s":"Pose 1","t":0.35,"d":4.0},{"p":"C","s":"Pose 1","t":0.36,"d":3.7},{"p":"C","s":"Pose 1","t":0.37,"d":3.9},{"p":"C","s":"Pose 1","t":0.38,"d":3.6},{"p":"C","s":"Pose 1","t":0.39,"d":3.8},{"p":"C","s":"Pose 1","t":0.4,"d":3.7},
{"p":"C","s":"Pose 1","t":0.41,"d":3.9},{"p":"C","s":"Pose 1","t":0.42,"d":3.6},{"p":"C","s":"Pose 1","t":0.43,"d":3.8},{"p":"C","s":"Pose 1","t":0.44,"d":4.0},{"p":"C","s":"Pose 1","t":0.45,"d":3.7},{"p":"C","s":"Pose 1","t":0.46,"d":3.9},{"p":"C","s":"Pose 1","t":0.47,"d":3.6},{"p":"C","s":"Pose 1","t":0.48,"d":3.8},{"p":"C","s":"Pose 1","t":0.49,"d":4.1},{"p":"C","s":"Pose 1","t":0.5,"d":3.7},
{"p":"C","s":"Pose 1","t":0.51,"d":3.9},{"p":"C","s":"Pose 1","t":0.52,"d":3.7},{"p":"C","s":"Pose 1","t":0.53,"d":3.8},{"p":"C","s":"Pose 1","t":0.54,"d":3.6},{"p":"C","s":"Pose 1","t":0.55,"d":4.0},{"p":"C","s":"Pose 1","t":0.56,"d":3.7},{"p":"C","s":"Pose 1","t":0.57,"d":3.9},{"p":"C","s":"Pose 1","t":0.58,"d":3.6},{"p":"C","s":"Pose 1","t":0.59,"d":3.8},{"p":"C","s":"Pose 1","t":0.6,"d":4.0},
{"p":"C","s":"Pose 1","t":0.61,"d":3.7},{"p":"C","s":"Pose 1","t":0.62,"d":3.9},{"p":"C","s":"Pose 1","t":0.63,"d":3.6},{"p":"C","s":"Pose 1","t":0.64,"d":3.8},{"p":"C","s":"Pose 1","t":0.65,"d":4.0},{"p":"C","s":"Pose 1","t":0.66,"d":3.7},{"p":"C","s":"Pose 1","t":0.67,"d":3.9},{"p":"C","s":"Pose 1","t":0.68,"d":3.6},{"p":"C","s":"Pose 1","t":0.69,"d":4.0},{"p":"C","s":"Pose 1","t":0.7,"d":3.8},
{"p":"C","s":"Pose 1","t":0.71,"d":3.6},{"p":"C","s":"Pose 1","t":0.72,"d":3.9},{"p":"C","s":"Pose 1","t":0.73,"d":3.7},{"p":"C","s":"Pose 1","t":0.74,"d":4.0},{"p":"C","s":"Pose 1","t":0.75,"d":3.8},{"p":"C","s":"Pose 1","t":0.76,"d":3.6},{"p":"C","s":"Pose 1","t":0.77,"d":3.9},{"p":"C","s":"Pose 1","t":0.78,"d":4.1},{"p":"C","s":"Pose 1","t":0.79,"d":3.7},{"p":"C","s":"Pose 1","t":0.8,"d":3.9},
{"p":"C","s":"Pose 1","t":0.81,"d":3.8},{"p":"C","s":"Pose 1","t":0.82,"d":4.0},{"p":"C","s":"Pose 1","t":0.83,"d":3.7},{"p":"C","s":"Pose 1","t":0.84,"d":3.9},{"p":"C","s":"Pose 1","t":0.85,"d":4.1},{"p":"C","s":"Pose 1","t":0.86,"d":3.8},{"p":"C","s":"Pose 1","t":0.87,"d":4.0},{"p":"C","s":"Pose 1","t":0.88,"d":3.9},{"p":"C","s":"Pose 1","t":0.89,"d":4.2},{"p":"C","s":"Pose 1","t":0.9,"d":3.8},
{"p":"C","s":"Pose 1","t":0.91,"d":4.0},{"p":"C","s":"Pose 1","t":0.92,"d":3.8},{"p":"C","s":"Pose 1","t":0.93,"d":4.1},{"p":"C","s":"Pose 1","t":0.94,"d":3.9},{"p":"C","s":"Pose 1","t":0.95,"d":4.3},{"p":"C","s":"Pose 1","t":0.96,"d":3.8},{"p":"C","s":"Pose 1","t":0.97,"d":4.0},{"p":"C","s":"Pose 1","t":0.98,"d":3.9},{"p":"C","s":"Pose 1","t":0.99,"d":4.1},{"p":"C","s":"Pose 1","t":1,"d":3.9},

{"p":"C","s":"Pose 2","t":0,"d":5.6},{"p":"C","s":"Pose 2","t":0.01,"d":4.8},{"p":"C","s":"Pose 2","t":0.02,"d":5.3},{"p":"C","s":"Pose 2","t":0.03,"d":6.0},{"p":"C","s":"Pose 2","t":0.04,"d":4.7},{"p":"C","s":"Pose 2","t":0.05,"d":5.5},{"p":"C","s":"Pose 2","t":0.06,"d":4.6},{"p":"C","s":"Pose 2","t":0.07,"d":5.2},{"p":"C","s":"Pose 2","t":0.08,"d":4.4},{"p":"C","s":"Pose 2","t":0.09,"d":5.8},{"p":"C","s":"Pose 2","t":0.1,"d":4.9},
{"p":"C","s":"Pose 2","t":0.11,"d":4.5},{"p":"C","s":"Pose 2","t":0.12,"d":5.0},{"p":"C","s":"Pose 2","t":0.13,"d":4.2},{"p":"C","s":"Pose 2","t":0.14,"d":4.7},{"p":"C","s":"Pose 2","t":0.15,"d":4.0},{"p":"C","s":"Pose 2","t":0.16,"d":4.6},{"p":"C","s":"Pose 2","t":0.17,"d":5.0},{"p":"C","s":"Pose 2","t":0.18,"d":4.3},{"p":"C","s":"Pose 2","t":0.19,"d":4.1},{"p":"C","s":"Pose 2","t":0.2,"d":4.5},
{"p":"C","s":"Pose 2","t":0.21,"d":4.0},{"p":"C","s":"Pose 2","t":0.22,"d":4.4},{"p":"C","s":"Pose 2","t":0.23,"d":3.9},{"p":"C","s":"Pose 2","t":0.24,"d":4.3},{"p":"C","s":"Pose 2","t":0.25,"d":3.8},{"p":"C","s":"Pose 2","t":0.26,"d":4.2},{"p":"C","s":"Pose 2","t":0.27,"d":3.7},{"p":"C","s":"Pose 2","t":0.28,"d":4.1},{"p":"C","s":"Pose 2","t":0.29,"d":4.4},{"p":"C","s":"Pose 2","t":0.3,"d":3.9},
{"p":"C","s":"Pose 2","t":0.31,"d":4.3},{"p":"C","s":"Pose 2","t":0.32,"d":3.8},{"p":"C","s":"Pose 2","t":0.33,"d":4.1},{"p":"C","s":"Pose 2","t":0.34,"d":3.7},{"p":"C","s":"Pose 2","t":0.35,"d":4.2},{"p":"C","s":"Pose 2","t":0.36,"d":4.5},{"p":"C","s":"Pose 2","t":0.37,"d":3.9},{"p":"C","s":"Pose 2","t":0.38,"d":4.2},{"p":"C","s":"Pose 2","t":0.39,"d":3.8},{"p":"C","s":"Pose 2","t":0.4,"d":4.4},
{"p":"C","s":"Pose 2","t":0.41,"d":3.9},{"p":"C","s":"Pose 2","t":0.42,"d":4.3},{"p":"C","s":"Pose 2","t":0.43,"d":4.0},{"p":"C","s":"Pose 2","t":0.44,"d":3.8},{"p":"C","s":"Pose 2","t":0.45,"d":4.2},{"p":"C","s":"Pose 2","t":0.46,"d":3.9},{"p":"C","s":"Pose 2","t":0.47,"d":4.6},{"p":"C","s":"Pose 2","t":0.48,"d":4.1},{"p":"C","s":"Pose 2","t":0.49,"d":4.5},{"p":"C","s":"Pose 2","t":0.5,"d":5.0},
{"p":"C","s":"Pose 2","t":0.51,"d":4.7},{"p":"C","s":"Pose 2","t":0.52,"d":5.3},{"p":"C","s":"Pose 2","t":0.53,"d":6.1},{"p":"C","s":"Pose 2","t":0.54,"d":5.4},{"p":"C","s":"Pose 2","t":0.55,"d":5.8},{"p":"C","s":"Pose 2","t":0.56,"d":5.2},{"p":"C","s":"Pose 2","t":0.57,"d":5.9},{"p":"C","s":"Pose 2","t":0.58,"d":5.5},{"p":"C","s":"Pose 2","t":0.59,"d":5.0},{"p":"C","s":"Pose 2","t":0.6,"d":4.6},
{"p":"C","s":"Pose 2","t":0.61,"d":4.2},{"p":"C","s":"Pose 2","t":0.62,"d":3.8},{"p":"C","s":"Pose 2","t":0.63,"d":4.2},{"p":"C","s":"Pose 2","t":0.64,"d":3.9},{"p":"C","s":"Pose 2","t":0.65,"d":4.4},{"p":"C","s":"Pose 2","t":0.66,"d":3.7},{"p":"C","s":"Pose 2","t":0.67,"d":4.1},{"p":"C","s":"Pose 2","t":0.68,"d":4.5},{"p":"C","s":"Pose 2","t":0.69,"d":3.9},{"p":"C","s":"Pose 2","t":0.7,"d":4.3},
{"p":"C","s":"Pose 2","t":0.71,"d":4.0},{"p":"C","s":"Pose 2","t":0.72,"d":5.2},{"p":"C","s":"Pose 2","t":0.73,"d":5.5},{"p":"C","s":"Pose 2","t":0.74,"d":5.1},{"p":"C","s":"Pose 2","t":0.75,"d":5.6},{"p":"C","s":"Pose 2","t":0.76,"d":5.0},{"p":"C","s":"Pose 2","t":0.77,"d":5.4},{"p":"C","s":"Pose 2","t":0.78,"d":5.3},{"p":"C","s":"Pose 2","t":0.79,"d":4.9},{"p":"C","s":"Pose 2","t":0.8,"d":5.5},
{"p":"C","s":"Pose 2","t":0.81,"d":4.6},{"p":"C","s":"Pose 2","t":0.82,"d":4.2},{"p":"C","s":"Pose 2","t":0.83,"d":4.8},{"p":"C","s":"Pose 2","t":0.84,"d":4.4},{"p":"C","s":"Pose 2","t":0.85,"d":4.9},{"p":"C","s":"Pose 2","t":0.86,"d":5.2},{"p":"C","s":"Pose 2","t":0.87,"d":5.4},{"p":"C","s":"Pose 2","t":0.88,"d":4.7},{"p":"C","s":"Pose 2","t":0.89,"d":5.0},{"p":"C","s":"Pose 2","t":0.9,"d":4.5},
{"p":"C","s":"Pose 2","t":0.91,"d":4.1},{"p":"C","s":"Pose 2","t":0.92,"d":3.7},{"p":"C","s":"Pose 2","t":0.93,"d":4.2},{"p":"C","s":"Pose 2","t":0.94,"d":3.5},{"p":"C","s":"Pose 2","t":0.95,"d":4.0},{"p":"C","s":"Pose 2","t":0.96,"d":3.8},{"p":"C","s":"Pose 2","t":0.97,"d":4.3},{"p":"C","s":"Pose 2","t":0.98,"d":3.9},{"p":"C","s":"Pose 2","t":0.99,"d":4.2},{"p":"C","s":"Pose 2","t":1,"d":4.0},

{"p":"C","s":"Pose 3","t":0,"d":6.2},{"p":"C","s":"Pose 3","t":0.01,"d":8.3},{"p":"C","s":"Pose 3","t":0.02,"d":8.6},{"p":"C","s":"Pose 3","t":0.03,"d":8.1},{"p":"C","s":"Pose 3","t":0.04,"d":8.7},{"p":"C","s":"Pose 3","t":0.05,"d":8.3},{"p":"C","s":"Pose 3","t":0.06,"d":8.9},{"p":"C","s":"Pose 3","t":0.07,"d":8.2},{"p":"C","s":"Pose 3","t":0.08,"d":8.6},{"p":"C","s":"Pose 3","t":0.09,"d":8.8},{"p":"C","s":"Pose 3","t":0.1,"d":8.4},
{"p":"C","s":"Pose 3","t":0.11,"d":8.9},{"p":"C","s":"Pose 3","t":0.12,"d":9.4},{"p":"C","s":"Pose 3","t":0.13,"d":8.5},{"p":"C","s":"Pose 3","t":0.14,"d":8.8},{"p":"C","s":"Pose 3","t":0.15,"d":8.2},{"p":"C","s":"Pose 3","t":0.16,"d":9.0},{"p":"C","s":"Pose 3","t":0.17,"d":8.6},{"p":"C","s":"Pose 3","t":0.18,"d":8.3},{"p":"C","s":"Pose 3","t":0.19,"d":8.9},{"p":"C","s":"Pose 3","t":0.2,"d":8.5},
{"p":"C","s":"Pose 3","t":0.21,"d":8.1},{"p":"C","s":"Pose 3","t":0.22,"d":8.7},{"p":"C","s":"Pose 3","t":0.23,"d":8.4},{"p":"C","s":"Pose 3","t":0.24,"d":8.9},{"p":"C","s":"Pose 3","t":0.25,"d":8.2},{"p":"C","s":"Pose 3","t":0.26,"d":8.6},{"p":"C","s":"Pose 3","t":0.27,"d":8.0},{"p":"C","s":"Pose 3","t":0.28,"d":8.8},{"p":"C","s":"Pose 3","t":0.29,"d":8.5},{"p":"C","s":"Pose 3","t":0.3,"d":9.2},
{"p":"C","s":"Pose 3","t":0.31,"d":8.3},{"p":"C","s":"Pose 3","t":0.32,"d":8.7},{"p":"C","s":"Pose 3","t":0.33,"d":8.0},{"p":"C","s":"Pose 3","t":0.34,"d":8.6},{"p":"C","s":"Pose 3","t":0.35,"d":8.2},{"p":"C","s":"Pose 3","t":0.36,"d":8.9},{"p":"C","s":"Pose 3","t":0.37,"d":8.4},{"p":"C","s":"Pose 3","t":0.38,"d":8.1},{"p":"C","s":"Pose 3","t":0.39,"d":8.7},{"p":"C","s":"Pose 3","t":0.4,"d":8.5},
{"p":"C","s":"Pose 3","t":0.41,"d":8.3},{"p":"C","s":"Pose 3","t":0.42,"d":8.8},{"p":"C","s":"Pose 3","t":0.43,"d":8.1},{"p":"C","s":"Pose 3","t":0.44,"d":8.6},{"p":"C","s":"Pose 3","t":0.45,"d":9.1},{"p":"C","s":"Pose 3","t":0.46,"d":8.4},{"p":"C","s":"Pose 3","t":0.47,"d":8.7},{"p":"C","s":"Pose 3","t":0.48,"d":8.2},{"p":"C","s":"Pose 3","t":0.49,"d":8.6},{"p":"C","s":"Pose 3","t":0.5,"d":8.3},
{"p":"C","s":"Pose 3","t":0.51,"d":8.7},{"p":"C","s":"Pose 3","t":0.52,"d":8.1},{"p":"C","s":"Pose 3","t":0.53,"d":8.5},{"p":"C","s":"Pose 3","t":0.54,"d":8.0},{"p":"C","s":"Pose 3","t":0.55,"d":8.6},{"p":"C","s":"Pose 3","t":0.56,"d":8.3},{"p":"C","s":"Pose 3","t":0.57,"d":8.8},{"p":"C","s":"Pose 3","t":0.58,"d":8.2},{"p":"C","s":"Pose 3","t":0.59,"d":8.5},{"p":"C","s":"Pose 3","t":0.6,"d":8.0},
{"p":"C","s":"Pose 3","t":0.61,"d":8.4},{"p":"C","s":"Pose 3","t":0.62,"d":8.1},{"p":"C","s":"Pose 3","t":0.63,"d":8.6},{"p":"C","s":"Pose 3","t":0.64,"d":8.2},{"p":"C","s":"Pose 3","t":0.65,"d":8.5},{"p":"C","s":"Pose 3","t":0.66,"d":7.9},{"p":"C","s":"Pose 3","t":0.67,"d":8.4},{"p":"C","s":"Pose 3","t":0.68,"d":8.1},{"p":"C","s":"Pose 3","t":0.69,"d":8.7},{"p":"C","s":"Pose 3","t":0.7,"d":8.2},
{"p":"C","s":"Pose 3","t":0.71,"d":8.5},{"p":"C","s":"Pose 3","t":0.72,"d":8.0},{"p":"C","s":"Pose 3","t":0.73,"d":8.3},{"p":"C","s":"Pose 3","t":0.74,"d":7.9},{"p":"C","s":"Pose 3","t":0.75,"d":8.6},{"p":"C","s":"Pose 3","t":0.76,"d":8.2},{"p":"C","s":"Pose 3","t":0.77,"d":8.4},{"p":"C","s":"Pose 3","t":0.78,"d":8.0},{"p":"C","s":"Pose 3","t":0.79,"d":8.5},{"p":"C","s":"Pose 3","t":0.8,"d":8.2},
{"p":"C","s":"Pose 3","t":0.81,"d":7.3},{"p":"C","s":"Pose 3","t":0.82,"d":8.0},{"p":"C","s":"Pose 3","t":0.83,"d":7.4},{"p":"C","s":"Pose 3","t":0.84,"d":8.2},{"p":"C","s":"Pose 3","t":0.85,"d":7.8},{"p":"C","s":"Pose 3","t":0.86,"d":8.3},{"p":"C","s":"Pose 3","t":0.87,"d":7.9},{"p":"C","s":"Pose 3","t":0.88,"d":8.4},{"p":"C","s":"Pose 3","t":0.89,"d":8.1},{"p":"C","s":"Pose 3","t":0.9,"d":7.7},
{"p":"C","s":"Pose 3","t":0.91,"d":8.3},{"p":"C","s":"Pose 3","t":0.92,"d":7.9},{"p":"C","s":"Pose 3","t":0.93,"d":8.5},{"p":"C","s":"Pose 3","t":0.94,"d":8.0},{"p":"C","s":"Pose 3","t":0.95,"d":8.2},{"p":"C","s":"Pose 3","t":0.96,"d":7.8},{"p":"C","s":"Pose 3","t":0.97,"d":8.4},{"p":"C","s":"Pose 3","t":0.98,"d":8.1},{"p":"C","s":"Pose 3","t":0.99,"d":8.0},{"p":"C","s":"Pose 3","t":1,"d":8.2}
]},
"hconcat": [
 {
  "width": 184, "height": 188,
  "layer": [
   {"transform": [{"filter": "datum.p == 'A'"}],
    "mark": {"type": "line", "strokeWidth": 1, "clip": true},
    "encoding": {
     "x": {"field": "t", "type": "quantitative", "scale": {"domain": [0, 1], "nice": false, "zero": false},
           "axis": {"orient": "bottom", "values": [0, 0.2, 0.4, 0.6, 0.8, 1], "format": ".1f", "title": "time[ns]", "titleFontSize": 10, "titlePadding": 0, "labelFontSize": 10, "tickSize": -4, "labelPadding": 6}},
     "y": {"field": "d", "type": "quantitative", "scale": {"domain": [2.5, 10], "nice": false, "zero": false},
           "axis": {"orient": "left", "values": [3, 4, 5, 6, 7, 8, 9, 10], "title": "distance[angstrom]", "titleFontSize": 11, "titlePadding": 3, "labelFontSize": 10, "tickSize": -4, "labelPadding": 7}},
     "color": {"field": "s", "type": "nominal", "scale": {"domain": ["Pose 1", "Pose 2", "Pose 3"], "range": ["#000000", "#2233ff", "#ff0022"]},
      "legend": {"orient": "none", "legendX": 640, "legendY": 57, "title": null, "symbolOpacity": 0, "symbolSize": 0, "labelFontSize": 18, "labelFont": "Liberation Sans", "labelOffset": 0, "rowPadding": 12, "padding": 0, "labelLimit": 0,
        "encode": {"labels": {"update": {"fill": {"scale": "color", "field": "value"}}}}}}
    }},
   {"data": {"values": [{}]},
    "mark": {"type": "text", "fontSize": 21, "font": "Liberation Sans", "align": "left", "baseline": "alphabetic", "color": "#000000"},
    "encoding": {
     "x": {"datum": -0.165, "type": "quantitative", "scale": {"domain": [0, 1], "nice": false, "zero": false},
           "axis": {"orient": "top", "values": [0, 0.2, 0.4, 0.6, 0.8, 1], "labels": false, "title": null, "tickSize": -4}},
     "y": {"datum": 10.52, "type": "quantitative", "scale": {"domain": [2.5, 10], "nice": false, "zero": false},
           "axis": {"orient": "right", "values": [3, 4, 5, 6, 7, 8, 9, 10], "labels": false, "title": null, "tickSize": -4}},
     "text": {"value": "A"}
    }},
   {"data": {"values": [{}]},
    "mark": {"type": "text", "fontSize": 18.5, "font": "Liberation Sans", "align": "center", "baseline": "alphabetic", "color": "#000000"},
    "encoding": {
     "x": {"datum": 0.5, "type": "quantitative", "scale": {"domain": [0, 1], "nice": false, "zero": false}, "axis": null},
     "y": {"datum": 10.48, "type": "quantitative", "scale": {"domain": [2.5, 10], "nice": false, "zero": false}, "axis": null},
     "text": {"value": "1b(1+)"}
    }}
  ],
  "resolve": {"axis": {"x": "independent", "y": "independent"}}
 },
 {
  "width": 184, "height": 188,
  "layer": [
   {"transform": [{"filter": "datum.p == 'B'"}],
    "mark": {"type": "line", "strokeWidth": 1, "clip": true},
    "encoding": {
     "x": {"field": "t", "type": "quantitative", "scale": {"domain": [0, 1], "nice": false, "zero": false},
           "axis": {"orient": "bottom", "values": [0, 0.2, 0.4, 0.6, 0.8, 1], "format": ".1f", "title": "time[ns]", "titleFontSize": 10, "titlePadding": 0, "labelFontSize": 10, "tickSize": -4, "labelPadding": 6}},
     "y": {"field": "d", "type": "quantitative", "scale": {"domain": [2.5, 10], "nice": false, "zero": false},
           "axis": {"orient": "left", "values": [3, 4, 5, 6, 7, 8, 9, 10], "title": "distance[angstrom]", "titleFontSize": 11, "titlePadding": 3, "labelFontSize": 10, "tickSize": -4, "labelPadding": 7}},
     "color": {"field": "s", "type": "nominal", "scale": {"domain": ["Pose 1", "Pose 2", "Pose 3"], "range": ["#000000", "#2233ff", "#ff0022"]}}
    }},
   {"data": {"values": [{}]},
    "mark": {"type": "text", "fontSize": 21, "font": "Liberation Sans", "align": "left", "baseline": "alphabetic", "color": "#000000"},
    "encoding": {
     "x": {"datum": -0.165, "type": "quantitative", "scale": {"domain": [0, 1], "nice": false, "zero": false},
           "axis": {"orient": "top", "values": [0, 0.2, 0.4, 0.6, 0.8, 1], "labels": false, "title": null, "tickSize": -4}},
     "y": {"datum": 10.52, "type": "quantitative", "scale": {"domain": [2.5, 10], "nice": false, "zero": false},
           "axis": {"orient": "right", "values": [3, 4, 5, 6, 7, 8, 9, 10], "labels": false, "title": null, "tickSize": -4}},
     "text": {"value": "B"}
    }},
   {"data": {"values": [{}]},
    "mark": {"type": "text", "fontSize": 18.5, "font": "Liberation Sans", "align": "center", "baseline": "alphabetic", "color": "#000000"},
    "encoding": {
     "x": {"datum": 0.5, "type": "quantitative", "scale": {"domain": [0, 1], "nice": false, "zero": false}, "axis": null},
     "y": {"datum": 10.48, "type": "quantitative", "scale": {"domain": [2.5, 10], "nice": false, "zero": false}, "axis": null},
     "text": {"value": "2b(1+)"}
    }}
  ],
  "resolve": {"axis": {"x": "independent", "y": "independent"}}
 },
 {
  "width": 182, "height": 188,
  "layer": [
   {"transform": [{"filter": "datum.p == 'C'"}],
    "mark": {"type": "line", "strokeWidth": 1, "clip": true},
    "encoding": {
     "x": {"field": "t", "type": "quantitative", "scale": {"domain": [0, 1], "nice": false, "zero": false},
           "axis": {"orient": "bottom", "values": [0, 0.2, 0.4, 0.6, 0.8, 1], "format": ".1f", "title": "time[ns]", "titleFontSize": 10, "titlePadding": 0, "labelFontSize": 10, "tickSize": -4, "labelPadding": 6}},
     "y": {"field": "d", "type": "quantitative", "scale": {"domain": [2.5, 10], "nice": false, "zero": false},
           "axis": {"orient": "left", "values": [3, 4, 5, 6, 7, 8, 9, 10], "title": "distance[angstrom]", "titleFontSize": 11, "titlePadding": 3, "labelFontSize": 10, "tickSize": -4, "labelPadding": 7}},
     "color": {"field": "s", "type": "nominal", "scale": {"domain": ["Pose 1", "Pose 2", "Pose 3"], "range": ["#000000", "#2233ff", "#ff0022"]}}
    }},
   {"data": {"values": [{}]},
    "mark": {"type": "text", "fontSize": 21, "font": "Liberation Sans", "align": "left", "baseline": "alphabetic", "color": "#000000"},
    "encoding": {
     "x": {"datum": -0.165, "type": "quantitative", "scale": {"domain": [0, 1], "nice": false, "zero": false},
           "axis": {"orient": "top", "values": [0, 0.2, 0.4, 0.6, 0.8, 1], "labels": false, "title": null, "tickSize": -4}},
     "y": {"datum": 10.52, "type": "quantitative", "scale": {"domain": [2.5, 10], "nice": false, "zero": false},
           "axis": {"orient": "right", "values": [3, 4, 5, 6, 7, 8, 9, 10], "labels": false, "title": null, "tickSize": -4}},
     "text": {"value": "C"}
    }},
   {"data": {"values": [{}]},
    "mark": {"type": "text", "fontSize": 18.5, "font": "Liberation Sans", "align": "center", "baseline": "alphabetic", "color": "#000000"},
    "encoding": {
     "x": {"datum": 0.5, "type": "quantitative", "scale": {"domain": [0, 1], "nice": false, "zero": false}, "axis": null},
     "y": {"datum": 10.48, "type": "quantitative", "scale": {"domain": [2.5, 10], "nice": false, "zero": false}, "axis": null},
     "text": {"value": "2b(2+)"}
    }}
  ],
  "resolve": {"axis": {"x": "independent", "y": "independent"}}
 }
]
}
